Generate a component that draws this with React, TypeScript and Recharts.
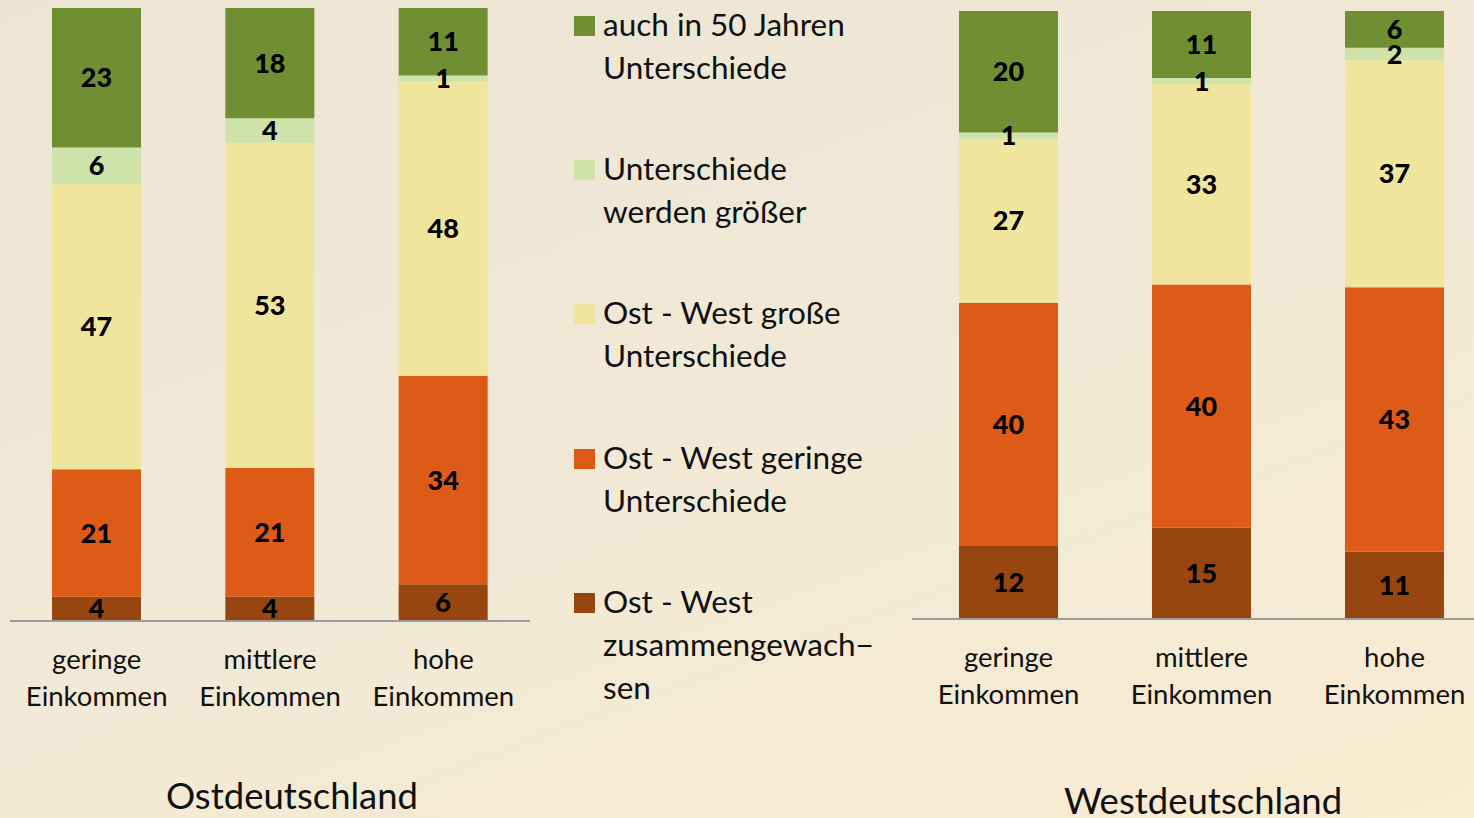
import React, { useEffect } from 'react';
import { BarChart, Bar, XAxis, YAxis, LabelList } from 'recharts';

// categories + series, bottom to top
const categories = ['geringe Einkommen', 'mittlere Einkommen', 'hohe Einkommen'];

const ostZusammen = [4, 4, 6];
const ostGering = [21, 21, 34];
const ostGross = [47, 53, 48];
const ostGroesser = [6, 4, 1];
const ostAuch = [23, 18, 11];

const westZusammen = [12, 15, 11];
const westGering = [40, 40, 43];
const westGross = [27, 33, 37];
const westGroesser = [1, 1, 2];
const westAuch = [20, 11, 6];

const seriesKeys = ['zusammen', 'gering', 'gross', 'groesser', 'auch'];
const seriesColors = ['#96460E', '#DE5A17', '#F0E59C', '#CFE2A9', '#6F8F32'];
const legendLabels = [
  ['auch in 50 Jahren', 'Unterschiede'],
  ['Unterschiede', 'werden größer'],
  ['Ost - West große', 'Unterschiede'],
  ['Ost - West geringe', 'Unterschiede'],
  ['Ost - West', 'zusammengewach−', 'sen'],
];
const legendOrder = [4, 3, 2, 1, 0];

const FONT = 'Lato, "Noto Sans", sans-serif';

const buildRows = (a: number[], b: number[], c: number[], d: number[], e: number[]) =>
  categories.map((name, i) => ({
    name,
    zusammen: a[i],
    gering: b[i],
    gross: c[i],
    groesser: d[i],
    auch: e[i],
  }));

const ostData = buildRows(ostZusammen, ostGering, ostGross, ostGroesser, ostAuch);
const westData = buildRows(westZusammen, westGering, westGross, westGroesser, westAuch);

const CategoryTick = (props: any) => {
  const { x, y, payload } = props;
  const parts = String(payload.value).split(' ');
  return (
    <text x={x} textAnchor="middle" fill="#111" fontFamily={FONT} fontSize={27.5}>
      <tspan x={x} y={y + 46}>{parts[0]}</tspan>
      <tspan x={x} y={y + 83}>{parts[1]}</tspan>
    </text>
  );
};

const StackChart = ({ data, width, plotHeight, barSize }: any) => (
  <BarChart
    width={width}
    height={plotHeight + 110}
    data={data}
    stackOffset="expand"
    margin={{ top: 0, right: 0, bottom: 0, left: 0 }}
  >
    <XAxis
      dataKey="name"
      height={110}
      tickLine={false}
      tickSize={0}
      axisLine={{ stroke: '#9c9c9c', strokeWidth: 2 }}
      tick={<CategoryTick />}
      interval={0}
    />
    <YAxis hide domain={[0, 1]} />
    {seriesKeys.map((k, i) => (
      <Bar key={k} dataKey={k} stackId="a" fill={seriesColors[i]} barSize={barSize} isAnimationActive={false}>
        <LabelList
          dataKey={k}
          position="center"
          fill="#000"
          fontFamily={FONT}
          fontWeight={900}
          fontSize={27}
        />
      </Bar>
    ))}
  </BarChart>
);

export default function App() {
  useEffect(() => {
    document.body.style.margin = '0';
  }, []);

  const legendTops = [3, 147, 291, 436, 580];

  return (
    <div
      style={{
        position: 'relative',
        width: 1474,
        height: 818,
        overflow: 'hidden',
        background: 'linear-gradient(160deg, #ece5d4 0%, #f1e9d6 50%, #f8ecd1 100%)',
        fontFamily: FONT,
      }}
    >
      <div style={{ position: 'absolute', left: 10, top: 8 }}>
        <StackChart data={ostData} width={520} plotHeight={613} barSize={89} />
      </div>
      <div style={{ position: 'absolute', left: 912, top: 11 }}>
        <StackChart data={westData} width={579} plotHeight={608} barSize={99} />
      </div>

      {legendOrder.map((s, j) => (
        <div key={s}>
          <div
            style={{
              position: 'absolute',
              left: 574,
              top: legendTops[j] + 13,
              width: 21,
              height: 20,
              background: seriesColors[s],
            }}
          />
          <div
            style={{
              position: 'absolute',
              left: 603,
              top: legendTops[j],
              fontSize: 31.5,
              lineHeight: '43px',
              color: '#111',
              whiteSpace: 'nowrap',
            }}
          >
            {legendLabels[j].map((l) => (
              <div key={l}>{l}</div>
            ))}
          </div>
        </div>
      ))}

      <div
        style={{
          position: 'absolute',
          left: 92,
          width: 400,
          top: 773,
          textAlign: 'center',
          fontSize: 36.5,
          lineHeight: '44px',
          color: '#111',
        }}
      >
        Ostdeutschland
      </div>
      <div
        style={{
          position: 'absolute',
          left: 1003,
          width: 400,
          top: 778,
          textAlign: 'center',
          fontSize: 36.5,
          lineHeight: '44px',
          color: '#111',
        }}
      >
        Westdeutschland
      </div>
    </div>
  );
}
